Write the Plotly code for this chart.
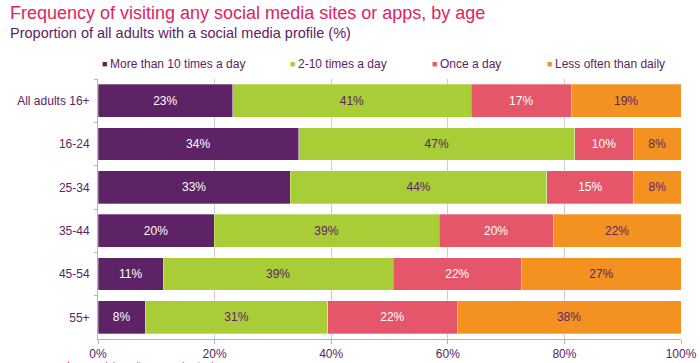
import plotly.graph_objects as go

categories = ["All adults 16+", "16-24", "25-34", "35-44", "45-54", "55+"]
series_names = ["More than 10 times a day", "2-10 times a day", "Once a day", "Less often than daily"]
more_than_10 = [23.1, 34.4, 33.0, 19.9, 11.2, 8.1]
two_to_ten = [40.9, 47.4, 44.0, 38.6, 39.4, 31.3]
once_a_day = [17.2, 10.0, 14.9, 19.6, 22.1, 22.2]
less_often = [18.8, 8.2, 8.1, 21.9, 27.3, 38.4]
labels_more = ["23%", "34%", "33%", "20%", "11%", "8%"]
labels_two = ["41%", "47%", "44%", "39%", "39%", "31%"]
labels_once = ["17%", "10%", "15%", "20%", "22%", "22%"]
labels_less = ["19%", "8%", "8%", "22%", "27%", "38%"]
x_ticks = [0, 20, 40, 60, 80, 100]
x_tick_labels = ["0%", "20%", "40%", "60%", "80%", "100%"]

colors = ["#5e2266", "#a8cd37", "#e5566b", "#f39221"]
text_colors = ["#ffffff", "#5e2266", "#ffffff", "#5e2266"]
values = [more_than_10, two_to_ten, once_a_day, less_often]
labels = [labels_more, labels_two, labels_once, labels_less]

FONT = "Liberation Sans, Arial, Helvetica, sans-serif"
PURPLE = "#5e2266"

W, H = 700, 363
PL, PR, PT, PB = 98, 681, 79, 339  # plot area in page pixels
L, T = PL, PT
R, B = W - PR, H - PB
PW, PH = PR - PL, PB - PT


def px_x(px):
    return (px - PL) / PW


def px_y(py):
    return 1 - (py - PT) / PH


fig = go.Figure()
for name, vals, txt, col, tcol in zip(series_names, values, labels, colors, text_colors):
    fig.add_trace(go.Bar(
        y=categories, x=vals, name=name, orientation="h",
        marker=dict(color=col, line=dict(color="rgba(255,255,255,0.6)", width=0.5)),
        text=txt, textposition="inside", insidetextanchor="middle",
        textfont=dict(color=tcol, size=12, family=FONT),
        textangle=0, showlegend=False,
        hoverinfo="skip",
    ))

fig.update_layout(
    barmode="stack",
    bargap=0.24,
    width=W, height=H,
    margin=dict(l=L, r=R, t=T, b=B, autoexpand=False),
    paper_bgcolor="white", plot_bgcolor="white",
    font=dict(family=FONT, color=PURPLE, size=12),
)
fig.update_xaxes(
    range=[0, 100], tickvals=x_ticks, ticktext=x_tick_labels,
    showgrid=True, gridcolor="#cfc8d2", gridwidth=1,
    showline=True, linecolor="#b8b0bc", linewidth=1,
    ticks="outside", ticklen=4, tickcolor="#b8b0bc",
    tickfont=dict(size=12, color=PURPLE), zeroline=False, automargin=False,
)
fig.update_yaxes(
    autorange="reversed", showline=True, linecolor="#b8b0bc", linewidth=1,
    ticks="outside", ticklen=3, tickcolor="#b8b0bc", tickson="boundaries",
    tickfont=dict(size=12, color=PURPLE), ticklabelstandoff=5, automargin=False,
)

# Titles
fig.add_annotation(text="Frequency of visiting any social media sites or apps, by age",
                   xref="paper", yref="paper", x=px_x(8), y=px_y(13),
                   xanchor="left", yanchor="middle", showarrow=False,
                   font=dict(size=18, color="#e0245e", family=FONT))
fig.add_annotation(text="Proportion of all adults with a social media profile (%)",
                   xref="paper", yref="paper", x=px_x(8), y=px_y(33),
                   xanchor="left", yanchor="middle", showarrow=False,
                   font=dict(size=14.5, color=PURPLE, family=FONT))

# Legend drawn as text
marker_x = [100, 288, 430, 545]
text_x = [108, 296, 438, 553]
for name, col, mx, tx in zip(series_names, colors, marker_x, text_x):
    fig.add_annotation(
        text="■", xref="paper", yref="paper", x=px_x(mx), y=px_y(64),
        xanchor="left", yanchor="middle", showarrow=False,
        font=dict(size=9, color=col, family=FONT))
    fig.add_annotation(
        text=name, xref="paper", yref="paper", x=px_x(tx), y=px_y(64),
        xanchor="left", yanchor="middle", showarrow=False,
        font=dict(size=12, color=PURPLE, family=FONT))

# Source (partly cut off at the bottom edge, as in the original)
fig.add_annotation(text="Source: Ofcom's Adult Media Use and Attitudes Report 2015",
                   xref="paper", yref="paper", x=px_x(22), y=px_y(358),
                   xanchor="left", yanchor="top", showarrow=False,
                   font=dict(size=9.5, color="#e0245e", family=FONT))

fig.write_html("out.html",
               config={"displayModeBar": False},
               post_script="document.body.style.margin='0';document.body.style.overflow='hidden';")
